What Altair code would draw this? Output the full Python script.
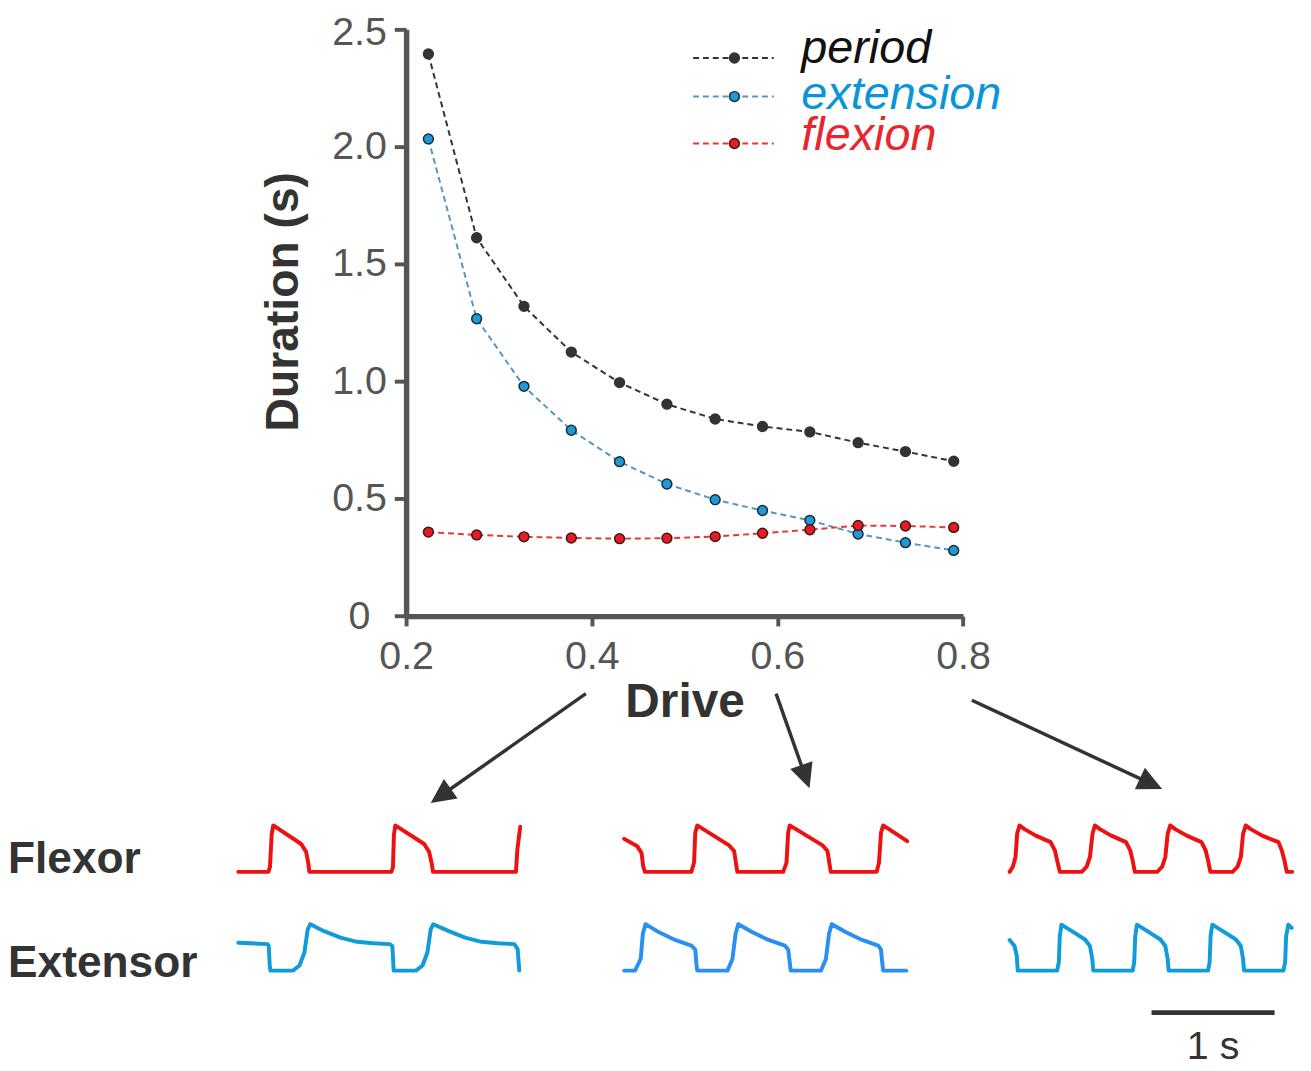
import math
import numpy as np
import pandas as pd
import altair as alt

# ---------------- data: main plot ----------------
DRIVE = [0.224, 0.276, 0.327, 0.378, 0.430, 0.481, 0.533, 0.584, 0.635, 0.687, 0.738, 0.790]
PERIOD = [2.395, 1.612, 1.320, 1.125, 0.995, 0.903, 0.840, 0.808, 0.785, 0.739, 0.701, 0.660]
EXTENSION = [2.033, 1.267, 0.979, 0.792, 0.658, 0.563, 0.496, 0.450, 0.408, 0.350, 0.313, 0.280]
FLEXION = [0.358, 0.346, 0.338, 0.333, 0.330, 0.332, 0.339, 0.353, 0.368, 0.386, 0.384, 0.378]
SERIES = ["period", "extension", "flexion"]
X_TICKS = [0.2, 0.4, 0.6, 0.8]
Y_TICKS = [0, 0.5, 1.0, 1.5, 2.0, 2.5]

# ---------------- data: activity traces (time in s from panel start, normalised level) ----------------
FLEX_1_T = [0.000, 0.245, 0.258, 0.272, 0.285, 0.512, 0.552, 0.570, 0.578, 1.245, 1.258, 1.266, 1.277,
            1.512, 1.552, 1.573, 1.584, 2.258, 2.270, 2.293]
FLEX_1_V = [0.00, 0.00, 0.10, 0.81, 1.00, 0.60, 0.43, 0.18, 0.00, 0.00, 0.10, 0.80, 1.00,
            0.60, 0.43, 0.18, 0.00, 0.00, 0.50, 0.97]
EXT_1_T = [0.000, 0.240, 0.248, 0.256, 0.262, 0.445, 0.498, 0.538, 0.565, 0.586, 0.698, 0.832, 0.965,
           1.098, 1.232, 1.253, 1.264, 1.445, 1.498, 1.538, 1.565, 1.586, 1.712, 1.845, 1.978, 2.112,
           2.245, 2.272, 2.285]
EXT_1_V = [0.60, 0.57, 0.53, 0.11, 0.00, 0.00, 0.11, 0.39, 0.89, 1.00, 0.85, 0.71, 0.62,
           0.59, 0.57, 0.53, 0.00, 0.00, 0.11, 0.39, 0.89, 1.00, 0.85, 0.71, 0.62, 0.59,
           0.57, 0.46, 0.00]
FLEX_2_T = [0.000, 0.107, 0.141, 0.154, 0.168, 0.547, 0.568, 0.578, 0.594, 0.853, 0.894, 0.912, 0.920,
            1.293, 1.320, 1.333, 1.346, 1.613, 1.653, 1.672, 1.680, 2.053, 2.072, 2.088, 2.106, 2.301]
FLEX_2_V = [0.71, 0.55, 0.41, 0.13, 0.00, 0.00, 0.20, 0.84, 1.00, 0.57, 0.45, 0.13, 0.00,
            0.00, 0.20, 0.84, 1.00, 0.57, 0.45, 0.13, 0.00, 0.00, 0.20, 0.84, 1.00, 0.66]
EXT_2_T = [0.000, 0.088, 0.134, 0.152, 0.174, 0.280, 0.414, 0.546, 0.578, 0.586, 0.594, 0.840, 0.880,
           0.906, 0.928, 1.040, 1.174, 1.306, 1.334, 1.346, 1.354, 1.600, 1.640, 1.666, 1.688, 1.800,
           1.934, 2.066, 2.088, 2.098, 2.106, 2.293]
EXT_2_V = [0.00, 0.00, 0.25, 0.80, 1.00, 0.83, 0.66, 0.54, 0.45, 0.18, 0.00, 0.00, 0.25,
           0.80, 1.00, 0.83, 0.66, 0.54, 0.45, 0.18, 0.00, 0.00, 0.25, 0.80, 1.00, 0.83,
           0.66, 0.54, 0.45, 0.18, 0.00, 0.00]
FLEX_3_T = [0.000, 0.026, 0.048, 0.061, 0.080, 0.120, 0.213, 0.333, 0.368, 0.386, 0.408,
            0.586, 0.626, 0.653, 0.674, 0.693, 0.733, 0.826, 0.946, 0.981, 1.000, 1.018,
            1.200, 1.240, 1.266, 1.285, 1.306, 1.346, 1.440, 1.560, 1.594, 1.613, 1.632,
            1.813, 1.853, 1.880, 1.898, 1.920, 1.960, 2.053, 2.186, 2.213, 2.234, 2.253, 2.298]
FLEX_3_V = [0.00, 0.11, 0.32, 0.82, 1.00, 0.92, 0.78, 0.64, 0.46, 0.25, 0.00,
            0.00, 0.11, 0.32, 0.82, 1.00, 0.92, 0.78, 0.64, 0.46, 0.25, 0.00,
            0.00, 0.11, 0.32, 0.82, 1.00, 0.92, 0.78, 0.64, 0.46, 0.25, 0.00,
            0.00, 0.11, 0.32, 0.82, 1.00, 0.92, 0.78, 0.64, 0.46, 0.25, 0.00, 0.00]
EXT_3_T = [0.000, 0.040, 0.058, 0.066, 0.386, 0.400, 0.408, 0.421, 0.506, 0.613, 0.653, 0.672, 0.680,
           1.000, 1.013, 1.021, 1.035, 1.120, 1.226, 1.266, 1.285, 1.293, 1.613, 1.626, 1.634, 1.648,
           1.733, 1.840, 1.880, 1.898, 1.906, 2.226, 2.240, 2.248, 2.266, 2.293]
EXT_3_V = [0.66, 0.53, 0.32, 0.00, 0.00, 0.18, 0.74, 0.99, 0.85, 0.67, 0.53, 0.25, 0.00,
           0.00, 0.18, 0.74, 0.99, 0.85, 0.67, 0.53, 0.25, 0.00, 0.00, 0.18, 0.74, 0.99,
           0.85, 0.67, 0.53, 0.25, 0.00, 0.00, 0.18, 0.74, 0.99, 0.92]
ROW_LABELS = ["Flexor", "Extensor"]
SCALE_BAR_LABEL = "1 s"

# ---------------- layout / style (reference pixels) ----------------
S = 0.99                                      # font / stroke scale
SX, SY = 0.99, 0.984                          # position scales
FONT = "Liberation Sans, Arial, Helvetica, sans-serif"
REF_X0, REF_Y0 = -1.3, -4.5                   # reference point drawn at the svg origin
SVG_W, SVG_H = 1303.0, 1063.0
PLOT_LEFT, PLOT_TOP, PLOT_W, PLOT_H = 403.3, 14.0, 566.0, 600.0
TRACE_X0, PX_PER_S = 232.7, 125.0
PANEL_T0 = [0.0, 3.138, 6.272]                # strip time where each panel begins
FLEX_BASE_Y, TRACE_AMP = 875.5, 47.5
ROW_BASE = {"Flexor": 0.0, "Extensor": -2.126}
BAR_T0, BAR_LEVEL, BAR_TEXT_LEVEL = 7.426, -3.03, -4.03
ROW_LABEL_X, ROW_LABEL_BASE = -1.3, [877.0, 983.0]
Y_LABEL_CX = 355.5
Y_TITLE_X, Y_TITLE_Y = 303.0, 292.0

FLEX_COLOR = "#ee1111"
EXT_COLORS = ["#109bd9", "#2a8ff2", "#109bd9"]
AXIS_COLOR = "#555555"

LEG_LINE = ["#333333", "#5596bf", "#e8353a"]
LEG_FILL = ["#333333", "#1f9ad6", "#e81a22"]
LEG_STROKE = ["#333333", "#1b2b38", "#3a1a1a"]
LEG_TEXT = ["#111111", "#0b95d8", "#e8262d"]
LEG_X0, LEG_X1, LEG_DOT_X, LEG_TXT_X = 695.0, 777.0, 737.0, 805.0
LEG_DOT_Y = [43.3, 82.7, 130.7]
LEG_TXT_BASE = [48.3, 95.0, 137.0]

ARROW_START = [(586.0, 693.3), (779.3, 693.3), (978.3, 700.0)]
ARROW_TIP = [(428.3, 805.0), (813.3, 790.0), (1171.7, 790.7)]
HEAD_LEN = 25.0


def rx(v):
    return SX * (v - PLOT_LEFT)


def ry(v):
    return SY * (v - PLOT_TOP)


W, H = SX * PLOT_W, SY * PLOT_H
PAD_L = SX * (PLOT_LEFT - REF_X0)
PAD_T = SY * (PLOT_TOP - REF_Y0)
PAD_R = SVG_W - PAD_L - W
PAD_B = SVG_H - PAD_T - H

# ---------------- main plot ----------------
main_df = pd.DataFrame({
    "drive": DRIVE * 3,
    "duration": PERIOD + EXTENSION + FLEXION,
    "series": [s for s in SERIES for _ in DRIVE],
})

main_x = alt.X("drive:Q",
               scale=alt.Scale(domain=[0.2, 0.8], nice=False, zero=False),
               axis=alt.Axis(values=X_TICKS, format=".1f", title="Drive", grid=False,
                             labelFlush=False, labelFontSize=40 * S, labelColor=AXIS_COLOR,
                             labelFont=FONT, labelPadding=12 * SY,
                             tickSize=10 * SY, tickWidth=4 * S, tickColor=AXIS_COLOR,
                             domainWidth=5.5 * S, domainColor=AXIS_COLOR,
                             titleFont=FONT, titleFontSize=48.5 * S, titleFontWeight="bold",
                             titleColor="#333333", titlePadding=3 * SY))
main_y = alt.Y("duration:Q",
               scale=alt.Scale(domain=[0, 2.5], nice=False, zero=False),
               axis=alt.Axis(values=Y_TICKS,
                             labelExpr="datum.value == 0 ? '0' : format(datum.value, '.1f')",
                             title="Duration (s)", grid=False, labelFontSize=40 * S,
                             labelColor=AXIS_COLOR, labelFont=FONT, labelAlign="center",
                             labelPadding=SX * (PLOT_LEFT - 12 - Y_LABEL_CX),
                             labelOffset={"condition": {"test": "datum.value == 2.5", "value": 3.5 * SY},
                                          "value": 0},
                             tickSize=12 * SX, tickWidth=4 * S, tickColor=AXIS_COLOR,
                             domainWidth=5.5 * S, domainColor=AXIS_COLOR,
                             titleFont=FONT, titleFontSize=47 * S, titleFontWeight="bold",
                             titleColor="#333333", titleX=rx(Y_TITLE_X), titleY=ry(Y_TITLE_Y)))

main_layers = []
for i, name in enumerate(SERIES):
    base = alt.Chart(main_df).transform_filter(alt.datum.series == name)
    main_layers.append(base.mark_line(color=LEG_LINE[i], strokeWidth=2 * S,
                                      strokeDash=[6 * S, 4 * S]).encode(x=main_x, y=main_y))
    main_layers.append(base.mark_circle(fill=LEG_FILL[i], stroke=LEG_STROKE[i], strokeWidth=1.5 * S,
                                        size=100 * S * S, opacity=1).encode(x=main_x, y=main_y))

# legend drawn as marks
leg_df = pd.DataFrame({
    "name": SERIES,
    "lc": LEG_LINE, "fc": LEG_FILL, "sc": LEG_STROKE, "tc": LEG_TEXT,
    "dy": [ry(v) for v in LEG_DOT_Y],
    "ty": [ry(v) for v in LEG_TXT_BASE],
})
leg_lines = alt.Chart(leg_df).mark_rule(strokeWidth=2 * S, strokeDash=[6 * S, 4 * S]).encode(
    x=alt.value(rx(LEG_X0)), x2=alt.value(rx(LEG_X1)),
    y=alt.Y("dy:Q", scale=None), color=alt.Color("lc:N", scale=None))
leg_pts = alt.Chart(leg_df).mark_circle(size=100 * S * S, strokeWidth=1.5 * S, opacity=1).encode(
    x=alt.value(rx(LEG_DOT_X)), y=alt.Y("dy:Q", scale=None),
    fill=alt.Fill("fc:N", scale=None), stroke=alt.Stroke("sc:N", scale=None))
leg_txt = alt.Chart(leg_df).mark_text(font=FONT, fontSize=47.5 * S, fontStyle="italic",
                                      align="left", baseline="alphabetic").encode(
    x=alt.value(rx(LEG_TXT_X)), y=alt.Y("ty:Q", scale=None), text="name:N",
    color=alt.Color("tc:N", scale=None))

main_group = alt.layer(*main_layers, leg_lines, leg_pts, leg_txt)

# ---------------- traces ----------------
traces = [
    (0, "Flexor", FLEX_1_T, FLEX_1_V, FLEX_COLOR),
    (0, "Extensor", EXT_1_T, EXT_1_V, EXT_COLORS[0]),
    (1, "Flexor", FLEX_2_T, FLEX_2_V, FLEX_COLOR),
    (1, "Extensor", EXT_2_T, EXT_2_V, EXT_COLORS[1]),
    (2, "Flexor", FLEX_3_T, FLEX_3_V, FLEX_COLOR),
    (2, "Extensor", EXT_3_T, EXT_3_V, EXT_COLORS[2]),
]
rows = []
for k, (panel, muscle, ts, vs, col) in enumerate(traces):
    for j, (t, v) in enumerate(zip(ts, vs)):
        rows.append({"ts": PANEL_T0[panel] + t, "lvl": ROW_BASE[muscle] + v,
                     "trace": f"{muscle}{panel}", "col": col, "idx": j})
trace_df = pd.DataFrame(rows)

t_scale = alt.Scale(domain=[0, 1], nice=False, zero=False,
                    range=[rx(TRACE_X0), rx(TRACE_X0 + PX_PER_S)])
v_scale = alt.Scale(domain=[0, 1], nice=False, zero=False,
                    range=[ry(FLEX_BASE_Y), ry(FLEX_BASE_Y - TRACE_AMP)])

trace_lines = alt.Chart(trace_df).mark_line(strokeWidth=4 * S, strokeCap="round",
                                            strokeJoin="round").encode(
    x=alt.X("ts:Q", axis=None, scale=t_scale), y=alt.Y("lvl:Q", axis=None, scale=v_scale),
    detail="trace:N", color=alt.Color("col:N", scale=None), order="idx:Q")

bar_df = pd.DataFrame({"ts": [BAR_T0], "ts2": [BAR_T0 + 1.0], "lvl": [BAR_LEVEL],
                       "tm": [BAR_T0 + 0.5], "tl": [BAR_TEXT_LEVEL], "label": [SCALE_BAR_LABEL]})
bar = alt.Chart(bar_df).mark_rule(color="#333333", strokeWidth=5 * S).encode(
    x=alt.X("ts:Q", axis=None, scale=t_scale), x2="ts2:Q",
    y=alt.Y("lvl:Q", axis=None, scale=v_scale))
bar_txt = alt.Chart(bar_df).mark_text(font=FONT, fontSize=40 * S, color="#333333",
                                      align="center", baseline="alphabetic").encode(
    x=alt.X("tm:Q", axis=None, scale=t_scale), y=alt.Y("tl:Q", axis=None, scale=v_scale),
    text="label:N")

lab_df = pd.DataFrame({"label": ROW_LABELS, "yp": [ry(v) for v in ROW_LABEL_BASE]})
row_labels = alt.Chart(lab_df).mark_text(font=FONT, fontSize=45 * S, fontWeight="bold",
                                         color="#333333", align="left",
                                         baseline="alphabetic").encode(
    x=alt.value(rx(ROW_LABEL_X)), y=alt.Y("yp:Q", scale=None), text="label:N")

# arrows
arr = []
for (sx, sy), (tx_, ty_) in zip(ARROW_START, ARROW_TIP):
    dx, dy = tx_ - sx, ty_ - sy
    ln = math.hypot(dx, dy)
    ux, uy = dx / ln, dy / ln
    arr.append({
        "x1": rx(sx), "y1": ry(sy),
        "x2": rx(tx_ - ux * HEAD_LEN * 0.7), "y2": ry(ty_ - uy * HEAD_LEN * 0.7),
        "cx": rx(tx_ - ux * HEAD_LEN / 2), "cy": ry(ty_ - uy * HEAD_LEN / 2),
        "ang": math.degrees(math.atan2(ux, -uy)) % 360,
    })
arr_df = pd.DataFrame(arr)
arrow_lines = alt.Chart(arr_df).mark_rule(color="#333333", strokeWidth=3.5 * S).encode(
    x=alt.X("x1:Q", scale=None), y=alt.Y("y1:Q", scale=None), x2="x2:Q", y2="y2:Q")
arrow_heads = alt.Chart(arr_df).mark_point(shape="M0,-1L-0.96,1L0.96,1Z", filled=True,
                                           fill="#333333", strokeWidth=0, opacity=1,
                                           size=(HEAD_LEN * S) ** 2).encode(
    x=alt.X("cx:Q", scale=None), y=alt.Y("cy:Q", scale=None),
    angle=alt.Angle("ang:Q", scale=None))

trace_group = alt.layer(trace_lines, bar, bar_txt, row_labels, arrow_lines, arrow_heads)

chart = alt.layer(main_group, trace_group).resolve_scale(
    x="independent", y="independent"
).properties(
    width=W, height=H, background="white",
    autosize=alt.AutoSizeParams(type="none"),
    padding={"left": PAD_L, "top": PAD_T, "right": PAD_R, "bottom": PAD_B},
).configure(font=FONT).configure_view(stroke="transparent", strokeWidth=0)

chart.save("out.html", embed_options={"renderer": "svg", "actions": False})
